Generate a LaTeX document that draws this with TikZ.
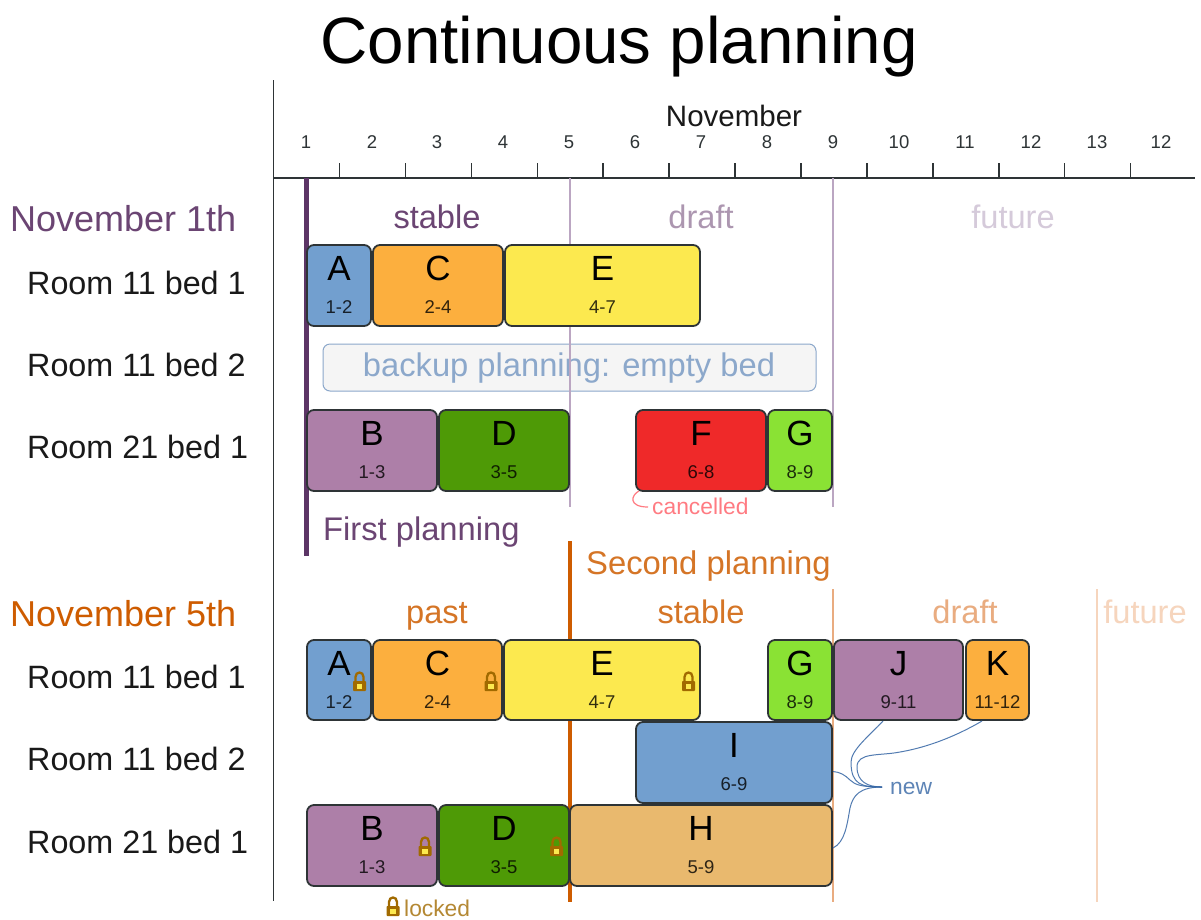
\documentclass[tikz,border=0pt]{standalone}
\usepackage{fontspec}
\setmainfont{Liberation Sans}
\newcommand{\fz}[1]{\fontsize{#1}{#1}\selectfont}
\definecolor{tblue}{HTML}{729FCF}
\definecolor{torange}{HTML}{FCAF3E}
\definecolor{tyellow}{HTML}{FCE94F}
\definecolor{tpurple}{HTML}{AD7FA8}
\definecolor{tgreen}{HTML}{4E9A06}
\definecolor{tred}{HTML}{EF2929}
\definecolor{tlime}{HTML}{8AE234}
\definecolor{ttan}{HTML}{E9B96E}
\definecolor{edgec}{HTML}{2E3436}
\definecolor{pdark}{HTML}{5C3566}
\definecolor{pmid}{HTML}{6B4573}
\definecolor{plight}{HTML}{AC96B0}
\definecolor{pfaint}{HTML}{D5CADA}
\definecolor{prule}{HTML}{BBA6C2}
\definecolor{odark}{HTML}{CE5C00}
\definecolor{olight}{HTML}{E9AC80}
\definecolor{ofaint}{HTML}{F6D5BD}
\definecolor{blueink}{HTML}{3465A4}
\definecolor{bluetxt}{HTML}{8CA8CB}
\definecolor{lockc}{HTML}{A16A00}
\definecolor{redink}{HTML}{FF7B82}
\tikzset{
  x=1pt,y=-1pt,
  task/.style={draw=edgec,line width=1.8pt,rounded corners=7pt,inner sep=0pt,outer sep=0pt},
  lettertext/.style={anchor=base,inner sep=0pt,font=\fz{35}},
  rangetext/.style={anchor=base,inner sep=0pt,font=\fz{18.5},text opacity=.8},
  axisnum/.style={anchor=base,inner sep=0pt,font=\fz{18.5},text=edgec},
  rowlabel/.style={anchor=base west,inner sep=0pt,font=\fz{32.3},text=black!90},
  dayhead/.style={anchor=base west,inner sep=0pt,font=\fz{36}},
  phase/.style={anchor=base,inner sep=0pt,font=\fz{32.6}},
  axisline/.style={line width=1.6pt,draw=edgec},
  tickline/.style={line width=1.4pt,draw=edgec},
  newlink/.style={draw=blueink,line width=1pt,opacity=.85},
  lock/.pic={
    \draw[lockc,line width=2.3pt] (-4,2) -- (-4,-4) .. controls (-4,-10) and (4,-10) .. (4,-4) -- (4,2);
    \fill[lockc,rounded corners=.8pt] (-6.5,0) rectangle (6.5,10);
    \fill[tyellow] (-2.6,3) rectangle (2.6,7.5);
  }
}
\newcommand{\tb}[8]{% name,x1,x2,top,height,colour,letter,range
  \pgfmathsetmacro{\tbw}{#3-#2}\pgfmathsetmacro{\tbm}{(#3+#2)/2}\pgfmathsetmacro{\tbc}{#4+#5/2}
  \pgfmathsetmacro{\tbl}{#4+35}\pgfmathsetmacro{\tbr}{#4+68}
  \node[task,fill=#6,minimum width=\tbw pt,minimum height=#5 pt] (#1) at (\tbm,\tbc) {};
  \node[lettertext] (#1l) at (\tbm,\tbl) {#7};
  \node[rangetext] (#1r) at (\tbm,\tbr) {#8};
}
\begin{document}
\begin{tikzpicture}
\useasboundingbox (0,0) rectangle (1201,919);
\fill[white] (0,0) rectangle (1201,919);
% title and axis
\node[anchor=base,inner sep=0pt,font=\fz{65.5}] (title) at (619,63) {Continuous planning};
\node[anchor=base,inner sep=0pt,font=\fz{29.5},text=black!90] (month) at (734,126) {November};
\foreach \n/\x/\t in {d1/306/1,d2/372/2,d3/437/3,d4/503/4,d5/569/5,d6/635/6,d7/701/7,d8/767/8,d9/833/9,d10/899/10,d11/965/11,d12/1031/12,d13/1097/13,d14/1161/12}
  \node[axisnum] (\n) at (\x,148.5) {\t};
\foreach \x in {339.5,405.5,471.3,537.2,603.1,669,735,801,867,933,999,1064.5,1130.5}
  \draw[tickline] (\x,163) -- (\x,178);
\draw[axisline] (273.5,80) -- (273.5,901);
\draw[axisline] (273,178) -- (1195,178);
% backup box
\node[draw=bluetxt,line width=1pt,fill=black!4,rounded corners=7pt,inner sep=0pt,minimum width=493pt,minimum height=47pt] (backup) at (569.5,367.5) {};
\node[anchor=base,inner sep=0pt,font=\fz{32.7},text=bluetxt] (backupt) at (569,376.5) {backup planning: empty bed};
% phase rules
\draw[prule,line width=1.2pt] (570,178) -- (570,507);
\draw[prule,line width=1.2pt] (833,178) -- (833,507);
\draw[pdark,line width=4.8pt] (306.5,178) -- (306.5,556);
\draw[odark,line width=4.6pt] (570,541) -- (570,902);
\draw[olight,line width=1.2pt] (833,589) -- (833,902);
\draw[ofaint,line width=1.4pt] (1097,589) -- (1097,902);
% section heads
\node[dayhead,text=pmid] (nov1) at (10,231) {November 1th};
\node[phase,text=pmid] (st1) at (437,228) {stable};
\node[phase,text=plight] (dr1) at (701,228) {draft};
\node[phase,text=pfaint] (fu1) at (1013,228) {future};
\node[dayhead,text=odark] (nov5) at (10,626) {November 5th};
\node[phase,text=odark!85!white] (pa2) at (437,623) {past};
\node[phase,text=odark!85!white] (st2) at (701,623) {stable};
\node[phase,text=olight] (dr2) at (965,623) {draft};
\node[phase,text=ofaint] (fu2) at (1145,623) {future};
% row labels
\node[rowlabel] (r1) at (27,294) {Room 11 bed 1};
\node[rowlabel] (r2) at (27,376) {Room 11 bed 2};
\node[rowlabel] (r3) at (27,458) {Room 21 bed 1};
\node[rowlabel] (r4) at (27,688) {Room 11 bed 1};
\node[rowlabel] (r5) at (27,770) {Room 11 bed 2};
\node[rowlabel] (r6) at (27,853) {Room 21 bed 1};
% planning labels
\node[anchor=base west,inner sep=0pt,font=\fz{32.7},text=pmid] (first) at (323,540) {First planning};
\node[anchor=base west,inner sep=0pt,font=\fz{32.8},text=odark!85!white] (second) at (586,574) {Second planning};
% first planning tasks
\tb{a1}{307}{371}{245}{81}{tblue}{A}{1-2}
\tb{c1}{373}{503}{245}{81}{torange}{C}{2-4}
\tb{e1}{505}{700}{245}{81}{tyellow}{E}{4-7}
\tb{b1}{307}{437}{410}{81}{tpurple}{B}{1-3}
\tb{d1}{439}{569}{410}{81}{tgreen}{D}{3-5}
\tb{f1}{636}{766}{410}{81}{tred}{F}{6-8}
\tb{g1}{768}{832}{410}{81}{tlime}{G}{8-9}
% second planning tasks
\tb{a2}{307}{371}{640}{80}{tblue}{A}{1-2}
\tb{c2}{373}{502}{640}{80}{torange}{C}{2-4}
\tb{e2}{504}{700}{640}{80}{tyellow}{E}{4-7}
\tb{g2}{768}{832}{640}{80}{tlime}{G}{8-9}
\tb{j2}{834}{963}{640}{80}{tpurple}{J}{9-11}
\tb{k2}{966}{1029}{640}{80}{torange}{K}{11-12}
\tb{i2}{636}{832}{722}{81}{tblue}{I}{6-9}
\tb{b2}{307}{437}{805}{81}{tpurple}{B}{1-3}
\tb{d2}{439}{569}{805}{81}{tgreen}{D}{3-5}
\tb{h2}{570}{832}{805}{81}{ttan}{H}{5-9}
% locks
\pic at (359.5,681) {lock};
\pic at (491,681) {lock};
\pic at (688.5,681) {lock};
\pic at (425,846) {lock};
\pic at (556.5,846) {lock};
\pic at (393,906) {lock};
\node[anchor=base west,inner sep=0pt,font=\fz{22.8},text=lockc!80!white] (locked) at (404,916) {locked};
% annotations
\node[anchor=base west,inner sep=0pt,font=\fz{22.8},text=redink] (cancel) at (652,514) {cancelled};
\draw[redink,line width=1.2pt] ([xshift=3pt]f1.south west) .. controls (631,495) and (628,507) .. (648,507);
\node[anchor=base west,inner sep=0pt,font=\fz{22.8},text=blueink!80!white] (new) at (890,794) {new};
\coordinate (nn) at (882,787);
\draw[newlink] (nn) .. controls (862,787) and (851,785) .. (851,762) .. controls (851,750) and (870,735) .. (883,721);
\draw[newlink] (nn) .. controls (868,787) and (857,782) .. (857,767) .. controls (857,752) and (880,756) .. (900,752) .. controls (935,746) and (965,731) .. (982,721);
\draw[newlink] (nn) .. controls (862,787) and (855,785) .. (850,780) .. controls (845,775) and (840,772) .. (833,771.5);
\draw[newlink] (nn) .. controls (860,787) and (853,795) .. (850,808) .. controls (847,825) and (845,842) .. (833,848);
\end{tikzpicture}
\end{document}
